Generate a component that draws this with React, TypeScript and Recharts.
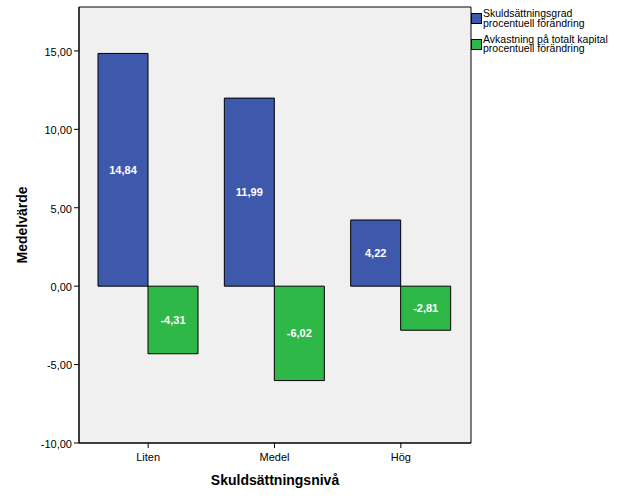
import React from 'react';
import { BarChart, Bar, XAxis, YAxis, CartesianGrid, LabelList, Legend, Label } from 'recharts';

const categories = ['Liten', 'Medel', 'Hög'];
const skuldValues = [14.84, 11.99, 4.22];
const avkastValues = [-4.31, -6.02, -2.81];
const yTicks = [-10, -5, 0, 5, 10, 15];
const seriesNames = ['Skuldsättningsgrad\nprocentuell förändring', 'Avkastning på totalt kapital\nprocentuell förändring'];
const seriesColors = ['#3E58AC', '#2EB848'];

const data = categories.map((c, i) => ({ name: c, skuld: skuldValues[i], avkast: avkastValues[i] }));

const fmt = (v: number) => Number(v).toFixed(2).replace('.', ',');
const FONT = '"Liberation Sans", Arial, sans-serif';

const LegendContent = () => (
  <div style={{ fontFamily: FONT, fontSize: 10.5, color: '#000' }}>
    {seriesNames.map((n, i) => (
      <div key={i} style={{ display: 'flex', alignItems: 'flex-start', marginBottom: 6.5 }}>
        <div style={{ width: 9, height: 9, background: seriesColors[i], border: '1px solid #000', marginTop: 4, marginRight: 1, flexShrink: 0 }} />
        <div style={{ lineHeight: '9.5px', whiteSpace: 'pre' }}>{n}</div>
      </div>
    ))}
  </div>
);

export default function App() {
  return (
    <div style={{ position: 'absolute', left: 0, top: 0, background: '#fff' }}>
      <BarChart
        width={629}
        height={504}
        data={data}
        margin={{ top: 7, right: 158, left: 0, bottom: 0 }}
        barGap={0}
        barCategoryGap={13}
      >
        <CartesianGrid
          fill="#F0F0F0"
          stroke="#000"
          strokeOpacity={1}
          horizontalCoordinatesGenerator={({ offset }: any) => [offset.top, offset.top + offset.height]}
          verticalCoordinatesGenerator={({ offset }: any) => [offset.left, offset.left + offset.width]}
        />
        <XAxis
          dataKey="name"
          height={61}
          padding={{ left: 6, right: 7 }}
          axisLine={{ stroke: '#000' }}
          tickLine={{ stroke: '#000' }}
          tickSize={5}
          tickMargin={5}
          tick={{ fill: '#000', fontSize: 11, fontFamily: FONT }}
          interval={0}
        >
          <Label
            content={({ viewBox }: any) => (
              <text
                x={viewBox.x + viewBox.width / 2}
                y={viewBox.y + 42}
                textAnchor="middle"
                fontFamily={FONT}
                fontSize={14}
                fontWeight="bold"
                fill="#000"
              >
                Skuldsättningsnivå
              </text>
            )}
          />
        </XAxis>
        <YAxis
          width={79}
          domain={[-10, 17.8]}
          ticks={yTicks}
          allowDataOverflow
          tickFormatter={fmt}
          axisLine={{ stroke: '#000' }}
          tickLine={{ stroke: '#000' }}
          tickSize={5}
          tick={{ fill: '#000', fontSize: 11, fontFamily: FONT, dy: 1 }}
        >
          <Label
            content={({ viewBox }: any) => {
              const x = viewBox.x + 27;
              const y = viewBox.y + viewBox.height / 2;
              return (
                <text
                  x={x}
                  y={y}
                  transform={`rotate(-90 ${x} ${y})`}
                  textAnchor="middle"
                  fontFamily={FONT}
                  fontSize={14}
                  fontWeight="bold"
                  fill="#000"
                >
                  Medelvärde
                </text>
              );
            }}
          />
        </YAxis>
        <Legend
          layout="vertical"
          align="center"
          verticalAlign="middle"
          content={<LegendContent />}
          wrapperStyle={{ left: 471, top: 9, width: 158 }}
        />
        <Bar dataKey="skuld" fill={seriesColors[0]} stroke="#000" strokeWidth={1} isAnimationActive={false}>
          <LabelList dataKey="skuld" position="center" formatter={fmt} fill="#fff" fontSize={11} fontWeight="bold" fontFamily={FONT} />
        </Bar>
        <Bar dataKey="avkast" fill={seriesColors[1]} stroke="#000" strokeWidth={1} isAnimationActive={false}>
          <LabelList dataKey="avkast" position="center" formatter={fmt} fill="#fff" fontSize={11} fontWeight="bold" fontFamily={FONT} />
        </Bar>
      </BarChart>
    </div>
  );
}
